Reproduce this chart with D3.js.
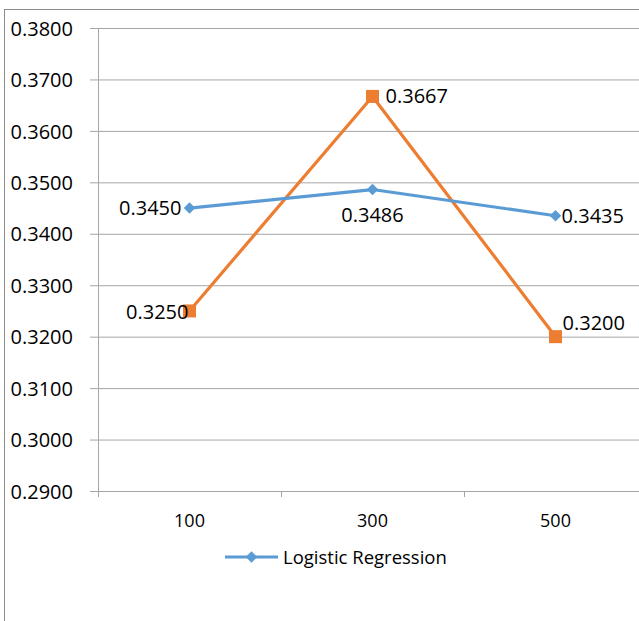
<!DOCTYPE html>
<html>
<head>
<meta charset="utf-8">
<script src="https://cdn.jsdelivr.net/npm/d3@7"></script>
<style>
  html, body { margin: 0; padding: 0; background: #fff; }
  svg { display: block; }
  text { font-family: "Open Sans", "Liberation Sans", sans-serif; fill: #000; }
</style>
</head>
<body>
<div id="chart"></div>
<script>
// Categories along the x axis
const categories = ["100", "300", "500"];
// Series values
const logisticValues = [0.3450, 0.3486, 0.3435];
const secondValues = [0.3250, 0.3667, 0.3200];
// Y axis tick values
const yTicks = [0.29, 0.30, 0.31, 0.32, 0.33, 0.34, 0.35, 0.36, 0.37, 0.38];
const seriesNames = ["Logistic Regression", "Series 2"];

const W = 639, H = 621;
const svg = d3.select("#chart").append("svg").attr("width", W).attr("height", H);

// Outer chart frame
svg.append("rect").attr("x", 4.5).attr("y", 9.5).attr("width", W + 20).attr("height", H + 20)
  .attr("fill", "none").attr("stroke", "#8c8c8c").attr("stroke-width", 1);

const plot = { left: 98, top: 28, bottom: 491, right: 647 };

const x = d3.scaleBand().domain(categories).range([plot.left, plot.right]);
const y = d3.scaleLinear().domain([0.29, 0.38]).range([plot.bottom, plot.top]);

// Horizontal gridlines with left tick stubs
const yAxis = d3.axisLeft(y).tickValues(yTicks).tickFormat(d3.format(".4f"))
  .tickSize(-(plot.right - plot.left)).tickPadding(18);
const gy = svg.append("g").attr("transform", `translate(${plot.left},0)`).call(yAxis);
gy.select(".domain").remove();
gy.selectAll(".tick line").attr("stroke", "#a6a6a6").attr("x1", -8);
gy.selectAll(".tick text").attr("font-size", 20).attr("x", -25).attr("dy", "0.36em");

// Vertical axis line
svg.append("line").attr("x1", plot.left + 0.5).attr("x2", plot.left + 0.5)
  .attr("y1", plot.top).attr("y2", plot.bottom + 6).attr("stroke", "#a6a6a6");

// Category axis: tick marks at band edges
const edges = categories.map(c => x(c)).concat([x.range()[1]]);
svg.append("line").attr("x1", plot.left).attr("x2", plot.right)
  .attr("y1", plot.bottom + 0.5).attr("y2", plot.bottom + 0.5).attr("stroke", "#a6a6a6");
svg.selectAll(".xtick").data(edges).join("line").attr("class", "xtick")
  .attr("x1", d => Math.round(d) + 0.5).attr("x2", d => Math.round(d) + 0.5)
  .attr("y1", plot.bottom).attr("y2", plot.bottom + 6).attr("stroke", "#a6a6a6");
svg.selectAll(".xlab").data(categories).join("text").attr("class", "xlab")
  .attr("x", d => x(d) + x.bandwidth() / 2).attr("y", 527)
  .attr("text-anchor", "middle").attr("font-size", 18).text(d => d);

const cx = d => x(d) + x.bandwidth() / 2;
const line = d3.line().x((d, i) => cx(categories[i])).y(d => y(d));

// Second series (orange, square markers)
svg.append("path").datum(secondValues).attr("d", line)
  .attr("fill", "none").attr("stroke", "#ED7D31").attr("stroke-width", 3.2).attr("stroke-linejoin", "round");
svg.selectAll(".sq").data(secondValues).join("rect").attr("class", "sq")
  .attr("x", (d, i) => cx(categories[i]) - 6.5).attr("y", d => y(d) - 6.5)
  .attr("width", 13).attr("height", 13).attr("fill", "#ED7D31");

// Logistic Regression (blue, diamond markers)
svg.append("path").datum(logisticValues).attr("d", line)
  .attr("fill", "none").attr("stroke", "#5B9BD5").attr("stroke-width", 3.2).attr("stroke-linejoin", "round");
const diamond = d3.symbol().type(d3.symbolDiamond2).size(85);
svg.selectAll(".dm").data(logisticValues).join("path").attr("class", "dm")
  .attr("transform", (d, i) => `translate(${cx(categories[i])},${y(d)})`)
  .attr("d", diamond).attr("fill", "#5B9BD5");

// Data labels
const fmt = d3.format(".4f");
const blueLabelPos = [
  { dx: -8, dy: 7, anchor: "end" },
  { dx: 0, dy: 32, anchor: "middle" },
  { dx: 6, dy: 7, anchor: "start" }
];
const orangeLabelPos = [
  { dx: -1, dy: 8, anchor: "end" },
  { dx: 13, dy: 7, anchor: "start" },
  { dx: 7, dy: -7, anchor: "start" }
];
svg.selectAll(".lb").data(logisticValues).join("text").attr("class", "lb")
  .attr("x", (d, i) => cx(categories[i]) + blueLabelPos[i].dx)
  .attr("y", d => y(d)).attr("dy", (d, i) => blueLabelPos[i].dy)
  .attr("text-anchor", (d, i) => blueLabelPos[i].anchor).attr("font-size", 20).text(d => fmt(d));
svg.selectAll(".lo").data(secondValues).join("text").attr("class", "lo")
  .attr("x", (d, i) => cx(categories[i]) + orangeLabelPos[i].dx)
  .attr("y", d => y(d)).attr("dy", (d, i) => orangeLabelPos[i].dy)
  .attr("text-anchor", (d, i) => orangeLabelPos[i].anchor).attr("font-size", 20).text(d => fmt(d));

// Legend
const lg = svg.append("g").attr("transform", "translate(225,557)");
lg.append("line").attr("x1", 0).attr("x2", 53).attr("y1", 0).attr("y2", 0)
  .attr("stroke", "#5B9BD5").attr("stroke-width", 3.2);
lg.append("path").attr("transform", "translate(26.5,0)").attr("d", diamond).attr("fill", "#5B9BD5");
lg.append("text").attr("x", 58).attr("y", 7).attr("font-size", 18.5).text(seriesNames[0]);
</script>
</body>
</html>
